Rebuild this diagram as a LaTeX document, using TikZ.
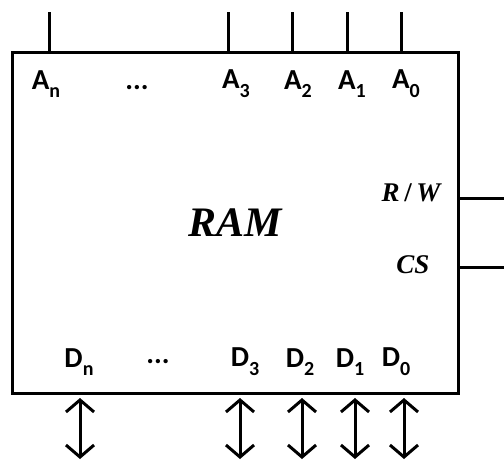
\documentclass[tikz,border=0pt]{standalone}
\usepackage{fontspec}
\setsansfont{Carlito}
\newfontfamily\chipfont{Liberation Serif}
\usetikzlibrary{positioning, arrows.meta}
\newcommand{\pinlbl}[2]{#1\raisebox{-0.3em}{\fontsize{20}{22}\selectfont #2}}

\begin{document}
\begin{tikzpicture}[x=1pt, y=-1pt, line width=3pt, >={Straight Barb[length=12pt, width=28pt, line width=3pt]},
  pin/.style={font=\fontsize{29}{32}\selectfont\sffamily\bfseries, inner sep=0pt},
  ctl/.style={font=\fontsize{27}{30}\selectfont\chipfont\bfseries\itshape, inner sep=0pt}]
  \useasboundingbox (0,0) rectangle (504,459);
  \node[draw, minimum width=446pt, minimum height=341pt, inner sep=0pt, font=\fontsize{42}{46}\selectfont\chipfont\bfseries\itshape] (ram) at (235,222.5) {RAM};
  % address pins
  \foreach \n/\x/\lx in {n/49/46, 3/228/236, 2/292/298, 1/347/352, 0/401/406} {
    \coordinate (a\n) at (\x,12);
    \draw (a\n) -- (a\n |- ram.north);
    \node[pin] (la\n) at (\lx,84) {\pinlbl{A}{\n}};
  }
  \node[pin] (adots) at (137,88) {...};
  % data pins
  \foreach \n/\x/\lx in {n/80/79, 3/240/245, 2/302/300, 1/355/350, 0/404/396} {
    \coordinate (dt\n) at (\x,398);
    \coordinate (d\n) at (\x,459);
    \draw[<->] (dt\n) -- (d\n);
    \node[pin] (ld\n) at (\lx,362) {\pinlbl{D}{\n}};
  }
  \node[pin] (ddots) at (158,362) {...};
  % control lines
  \node[ctl] (rw) at (411,193) {R\,\textup{/}\,W};
  \node[ctl] (cs) at (413,265) {CS};
  \coordinate (rwend) at (504,198);
  \coordinate (csend) at (504,267);
  \draw (rwend) -- (rwend -| ram.east);
  \draw (csend) -- (csend -| ram.east);
\end{tikzpicture}
\end{document}
